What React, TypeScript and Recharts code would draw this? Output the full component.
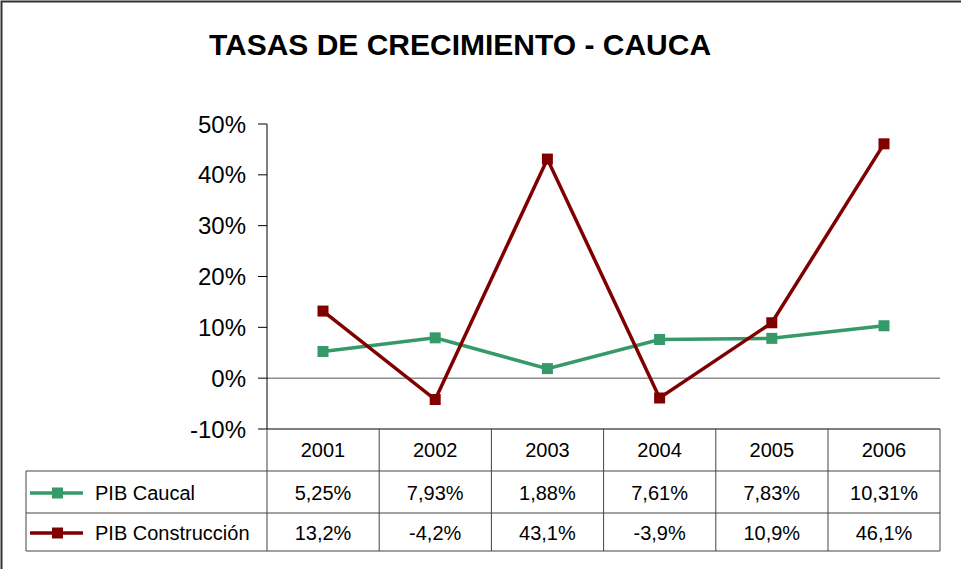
import React from 'react';
import { LineChart, Line, XAxis, YAxis, ReferenceLine, Customized } from 'recharts';

const years = ['2001', '2002', '2003', '2004', '2005', '2006'];
const pibCauca = [5.25, 7.93, 1.88, 7.61, 7.83, 10.31];
const pibConstruccion = [13.2, -4.2, 43.1, -3.9, 10.9, 46.1];
const caucaLabels = ['5,25%', '7,93%', '1,88%', '7,61%', '7,83%', '10,31%'];
const construccionLabels = ['13,2%', '-4,2%', '43,1%', '-3,9%', '10,9%', '46,1%'];
const yTicks = [-10, 0, 10, 20, 30, 40, 50];
const seriesNames = ['PIB Caucal', 'PIB Construcción'];
const title = 'TASAS DE CRECIMIENTO - CAUCA';

const data = years.map((y, i) => ({ year: y, cauca: pibCauca[i], construccion: pibConstruccion[i] }));

const GREEN = '#359a68';
const RED = '#800000';
const FONT = '"Liberation Sans", Arial, sans-serif';
const TABLE_TOP = 429;
const ROW1 = 471;
const ROW2 = 513;
const TABLE_BOTTOM = 551;
const TABLE_LEFT = 26;
const PLOT_RIGHT = 940;
const HALF = 56;
const GRID = '#444';

const SquareDot = (color: string) => (props: any) => {
  const { cx, cy, index } = props;
  if (cx == null || cy == null) return <g key={index} />;
  return <rect key={index} x={cx - 5.5} y={cy - 5.5} width={11} height={11} fill={color} />;
};

const TableTick = (props: any) => {
  const { x, payload, index } = props;
  const i = index;
  return (
    <g>
      <line x1={x - HALF} x2={x - HALF} y1={TABLE_TOP} y2={TABLE_BOTTOM} stroke={GRID} strokeWidth={1} />
      {i === years.length - 1 && (
        <line x1={x + HALF} x2={x + HALF} y1={TABLE_TOP} y2={TABLE_BOTTOM} stroke={GRID} strokeWidth={1} />
      )}
      <text x={x} y={450} textAnchor="middle" dominantBaseline="central" fontSize={20} fontFamily={FONT} fill="#000">
        {payload.value}
      </text>
      <text x={x} y={493} textAnchor="middle" dominantBaseline="central" fontSize={20} fontFamily={FONT} fill="#000">
        {caucaLabels[i]}
      </text>
      <text x={x} y={533} textAnchor="middle" dominantBaseline="central" fontSize={20} fontFamily={FONT} fill="#000">
        {construccionLabels[i]}
      </text>
    </g>
  );
};

const Decorations = () => (
  <g>
    <rect x={1.5} y={1.5} width={1000} height={600} fill="none" stroke="#333" strokeWidth={2} />
    <text x={460} y={55} textAnchor="middle" fontSize={30} fontWeight="bold" fontFamily={FONT} fill="#000">
      {title}
    </text>
    {[ROW1, ROW2, TABLE_BOTTOM].map((y) => (
      <line key={y} x1={TABLE_LEFT} x2={PLOT_RIGHT} y1={y} y2={y} stroke={GRID} strokeWidth={1} />
    ))}
    <line x1={TABLE_LEFT} x2={TABLE_LEFT} y1={ROW1} y2={TABLE_BOTTOM} stroke={GRID} strokeWidth={1} />
    {[GREEN, RED].map((c, k) => {
      const cy = k === 0 ? 493 : 533;
      return (
        <g key={c}>
          <line x1={30} x2={83} y1={cy} y2={cy} stroke={c} strokeWidth={3.5} />
          <rect x={52} y={cy - 5.5} width={11} height={11} fill={c} />
          <text x={95} y={cy} dominantBaseline="central" fontSize={20} fontFamily={FONT} fill="#000">
            {seriesNames[k]}
          </text>
        </g>
      );
    })}
  </g>
);

export default function App() {
  return (
    <div style={{ position: 'absolute', left: 0, top: 0, width: 961, height: 569, background: '#fff' }}>
      <LineChart width={961} height={569} data={data} margin={{ top: 124, right: 21, bottom: 15, left: 187 }}>
        <Customized component={Decorations} />
        <XAxis
          dataKey="year"
          height={125}
          padding={{ left: HALF, right: HALF }}
          axisLine={{ stroke: '#000', strokeWidth: 1 }}
          tickLine={false}
          tick={<TableTick />}
          interval={0}
        />
        <YAxis
          width={80}
          domain={[-10, 50]}
          ticks={yTicks}
          tickFormatter={(v: number) => `${v}%`}
          axisLine={{ stroke: '#000', strokeWidth: 1 }}
          tickLine={{ stroke: '#000' }}
          tickSize={9}
          tickMargin={12}
          tick={{ fontSize: 24, fontFamily: FONT, fill: '#000' }}
          interval={0}
        />
        <ReferenceLine y={0} stroke="#555" strokeWidth={1} />
        <Line
          dataKey="cauca"
          stroke={GREEN}
          strokeWidth={3.5}
          dot={SquareDot(GREEN)}
          isAnimationActive={false}
        />
        <Line
          dataKey="construccion"
          stroke={RED}
          strokeWidth={3.5}
          dot={SquareDot(RED)}
          isAnimationActive={false}
        />
      </LineChart>
    </div>
  );
}
